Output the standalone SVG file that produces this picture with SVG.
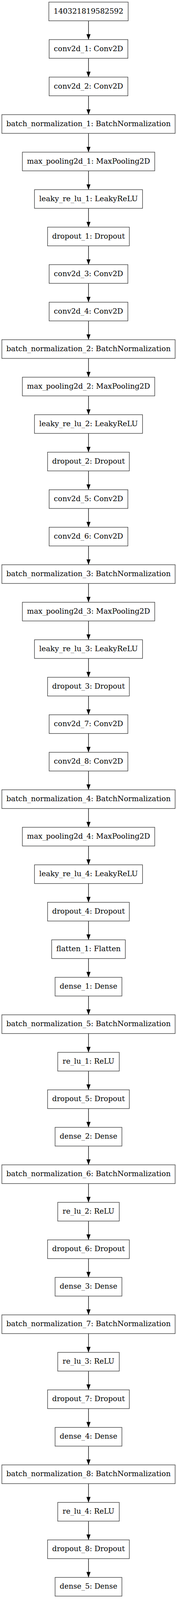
<svg xmlns="http://www.w3.org/2000/svg" width="453" height="4148" viewBox="0 0 453 4148">
<defs>
<style>
.n rect{fill:#fff;stroke:#404040;stroke-width:1.4}
.n text{font-family:"DejaVu Serif","Liberation Serif",serif;font-size:18.7px;fill:#000;text-anchor:middle}
.e path{fill:none;stroke:#000;stroke-width:1.35;marker-end:url(#ah)}
</style>
<marker id="ah" markerWidth="14" markerHeight="10.5" refX="14" refY="5.25" orient="auto" markerUnits="userSpaceOnUse" viewBox="0 0 14 10.5"><path d="M0,0 L14,5.25 L0,10.5 z" fill="#000"/></marker>
</defs>
<rect width="453" height="4148" fill="#fff"/>
<g id="edges" class="e">
<path d="M226.5,53.3 V101.4"/>
<path d="M226.5,149.3 V197.4"/>
<path d="M226.5,245.3 V293.5"/>
<path d="M226.5,341.4 V389.5"/>
<path d="M226.5,437.4 V485.5"/>
<path d="M226.5,533.4 V581.5"/>
<path d="M226.5,629.4 V677.5"/>
<path d="M226.5,725.4 V773.6"/>
<path d="M226.5,821.5 V869.6"/>
<path d="M226.5,917.5 V965.6"/>
<path d="M226.5,1013.5 V1061.6"/>
<path d="M226.5,1109.5 V1157.6"/>
<path d="M226.5,1205.5 V1253.7"/>
<path d="M226.5,1301.6 V1349.7"/>
<path d="M226.5,1397.6 V1445.7"/>
<path d="M226.5,1493.6 V1541.7"/>
<path d="M226.5,1589.6 V1637.7"/>
<path d="M226.5,1685.6 V1733.8"/>
<path d="M226.5,1781.7 V1829.8"/>
<path d="M226.5,1877.7 V1925.8"/>
<path d="M226.5,1973.7 V2021.8"/>
<path d="M226.5,2069.7 V2117.8"/>
<path d="M226.5,2165.7 V2213.9"/>
<path d="M226.5,2261.8 V2309.9"/>
<path d="M226.5,2357.8 V2405.9"/>
<path d="M226.5,2453.8 V2501.9"/>
<path d="M226.5,2549.8 V2597.9"/>
<path d="M226.5,2645.8 V2694"/>
<path d="M226.5,2741.9 V2790"/>
<path d="M226.5,2837.9 V2886"/>
<path d="M226.5,2933.9 V2982"/>
<path d="M226.5,3029.9 V3078"/>
<path d="M226.5,3125.9 V3174.1"/>
<path d="M226.5,3222 V3270.1"/>
<path d="M226.5,3318 V3366.1"/>
<path d="M226.5,3414 V3462.1"/>
<path d="M226.5,3510 V3558.1"/>
<path d="M226.5,3606 V3654.2"/>
<path d="M226.5,3702.1 V3750.2"/>
<path d="M226.5,3798.1 V3846.2"/>
<path d="M226.5,3894.1 V3942.2"/>
<path d="M226.5,3990.1 V4038.2"/>
</g>
<g id="node_input" class="n"><rect x="125" y="5.4" width="203" height="47.9"/><text x="226.5" y="34.5" textLength="178.3" lengthAdjust="spacingAndGlyphs">140321819582592</text></g>
<g id="node_conv2d_1" class="n"><rect x="125.7" y="101.4" width="201.6" height="47.9"/><text x="226.5" y="130.5" textLength="177.3" lengthAdjust="spacingAndGlyphs">conv2d_1: Conv2D</text></g>
<g id="node_conv2d_2" class="n"><rect x="125.7" y="197.4" width="201.6" height="47.9"/><text x="226.5" y="226.5" textLength="177.3" lengthAdjust="spacingAndGlyphs">conv2d_2: Conv2D</text></g>
<g id="node_batch_normalization_1" class="n"><rect x="4.7" y="293.5" width="443.6" height="47.9"/><text x="226.5" y="322.6" textLength="420.7" lengthAdjust="spacingAndGlyphs">batch_normalization_1: BatchNormalization</text></g>
<g id="node_max_pooling2d_1" class="n"><rect x="57.3" y="389.5" width="338.7" height="47.9"/><text x="226.5" y="418.6" textLength="315" lengthAdjust="spacingAndGlyphs">max_pooling2d_1: MaxPooling2D</text></g>
<g id="node_leaky_re_lu_1" class="n"><rect x="88.3" y="485.5" width="276.4" height="47.9"/><text x="226.5" y="514.6" textLength="252.7" lengthAdjust="spacingAndGlyphs">leaky_re_lu_1: LeakyReLU</text></g>
<g id="node_dropout_1" class="n"><rect x="121.7" y="581.5" width="209.3" height="47.9"/><text x="226.5" y="610.6" textLength="186" lengthAdjust="spacingAndGlyphs">dropout_1: Dropout</text></g>
<g id="node_conv2d_3" class="n"><rect x="125.7" y="677.5" width="201.6" height="47.9"/><text x="226.5" y="706.6" textLength="177.3" lengthAdjust="spacingAndGlyphs">conv2d_3: Conv2D</text></g>
<g id="node_conv2d_4" class="n"><rect x="125.7" y="773.6" width="201.6" height="47.9"/><text x="226.5" y="802.7" textLength="177.3" lengthAdjust="spacingAndGlyphs">conv2d_4: Conv2D</text></g>
<g id="node_batch_normalization_2" class="n"><rect x="4.7" y="869.6" width="443.6" height="47.9"/><text x="226.5" y="898.7" textLength="420.7" lengthAdjust="spacingAndGlyphs">batch_normalization_2: BatchNormalization</text></g>
<g id="node_max_pooling2d_2" class="n"><rect x="57.3" y="965.6" width="338.7" height="47.9"/><text x="226.5" y="994.7" textLength="315" lengthAdjust="spacingAndGlyphs">max_pooling2d_2: MaxPooling2D</text></g>
<g id="node_leaky_re_lu_2" class="n"><rect x="88.3" y="1061.6" width="276.4" height="47.9"/><text x="226.5" y="1090.7" textLength="252.7" lengthAdjust="spacingAndGlyphs">leaky_re_lu_2: LeakyReLU</text></g>
<g id="node_dropout_2" class="n"><rect x="121.7" y="1157.6" width="209.3" height="47.9"/><text x="226.5" y="1186.7" textLength="186" lengthAdjust="spacingAndGlyphs">dropout_2: Dropout</text></g>
<g id="node_conv2d_5" class="n"><rect x="125.7" y="1253.7" width="201.6" height="47.9"/><text x="226.5" y="1282.8" textLength="177.3" lengthAdjust="spacingAndGlyphs">conv2d_5: Conv2D</text></g>
<g id="node_conv2d_6" class="n"><rect x="125.7" y="1349.7" width="201.6" height="47.9"/><text x="226.5" y="1378.8" textLength="177.3" lengthAdjust="spacingAndGlyphs">conv2d_6: Conv2D</text></g>
<g id="node_batch_normalization_3" class="n"><rect x="4.7" y="1445.7" width="443.6" height="47.9"/><text x="226.5" y="1474.8" textLength="420.7" lengthAdjust="spacingAndGlyphs">batch_normalization_3: BatchNormalization</text></g>
<g id="node_max_pooling2d_3" class="n"><rect x="57.3" y="1541.7" width="338.7" height="47.9"/><text x="226.5" y="1570.8" textLength="315" lengthAdjust="spacingAndGlyphs">max_pooling2d_3: MaxPooling2D</text></g>
<g id="node_leaky_re_lu_3" class="n"><rect x="88.3" y="1637.7" width="276.4" height="47.9"/><text x="226.5" y="1666.8" textLength="252.7" lengthAdjust="spacingAndGlyphs">leaky_re_lu_3: LeakyReLU</text></g>
<g id="node_dropout_3" class="n"><rect x="121.7" y="1733.8" width="209.3" height="47.9"/><text x="226.5" y="1762.9" textLength="186" lengthAdjust="spacingAndGlyphs">dropout_3: Dropout</text></g>
<g id="node_conv2d_7" class="n"><rect x="125.7" y="1829.8" width="201.6" height="47.9"/><text x="226.5" y="1858.9" textLength="177.3" lengthAdjust="spacingAndGlyphs">conv2d_7: Conv2D</text></g>
<g id="node_conv2d_8" class="n"><rect x="125.7" y="1925.8" width="201.6" height="47.9"/><text x="226.5" y="1954.9" textLength="177.3" lengthAdjust="spacingAndGlyphs">conv2d_8: Conv2D</text></g>
<g id="node_batch_normalization_4" class="n"><rect x="4.7" y="2021.8" width="443.6" height="47.9"/><text x="226.5" y="2050.9" textLength="420.7" lengthAdjust="spacingAndGlyphs">batch_normalization_4: BatchNormalization</text></g>
<g id="node_max_pooling2d_4" class="n"><rect x="57.3" y="2117.8" width="338.7" height="47.9"/><text x="226.5" y="2146.9" textLength="315" lengthAdjust="spacingAndGlyphs">max_pooling2d_4: MaxPooling2D</text></g>
<g id="node_leaky_re_lu_4" class="n"><rect x="88.3" y="2213.9" width="276.4" height="47.9"/><text x="226.5" y="2243" textLength="252.7" lengthAdjust="spacingAndGlyphs">leaky_re_lu_4: LeakyReLU</text></g>
<g id="node_dropout_4" class="n"><rect x="121.7" y="2309.9" width="209.3" height="47.9"/><text x="226.5" y="2339" textLength="186" lengthAdjust="spacingAndGlyphs">dropout_4: Dropout</text></g>
<g id="node_flatten_1" class="n"><rect x="132.3" y="2405.9" width="188.4" height="47.9"/><text x="226.5" y="2435" textLength="165" lengthAdjust="spacingAndGlyphs">flatten_1: Flatten</text></g>
<g id="node_dense_1" class="n"><rect x="141" y="2501.9" width="171" height="47.9"/><text x="226.5" y="2531" textLength="147.3" lengthAdjust="spacingAndGlyphs">dense_1: Dense</text></g>
<g id="node_batch_normalization_5" class="n"><rect x="4.7" y="2597.9" width="443.6" height="47.9"/><text x="226.5" y="2627" textLength="420.7" lengthAdjust="spacingAndGlyphs">batch_normalization_5: BatchNormalization</text></g>
<g id="node_re_lu_1" class="n"><rect x="147.7" y="2694" width="157.6" height="47.9"/><text x="226.5" y="2723.1" textLength="132.3" lengthAdjust="spacingAndGlyphs">re_lu_1: ReLU</text></g>
<g id="node_dropout_5" class="n"><rect x="121.7" y="2790" width="209.3" height="47.9"/><text x="226.5" y="2819.1" textLength="186" lengthAdjust="spacingAndGlyphs">dropout_5: Dropout</text></g>
<g id="node_dense_2" class="n"><rect x="141" y="2886" width="171" height="47.9"/><text x="226.5" y="2915.1" textLength="147.3" lengthAdjust="spacingAndGlyphs">dense_2: Dense</text></g>
<g id="node_batch_normalization_6" class="n"><rect x="4.7" y="2982" width="443.6" height="47.9"/><text x="226.5" y="3011.1" textLength="420.7" lengthAdjust="spacingAndGlyphs">batch_normalization_6: BatchNormalization</text></g>
<g id="node_re_lu_2" class="n"><rect x="147.7" y="3078" width="157.6" height="47.9"/><text x="226.5" y="3107.1" textLength="132.3" lengthAdjust="spacingAndGlyphs">re_lu_2: ReLU</text></g>
<g id="node_dropout_6" class="n"><rect x="121.7" y="3174.1" width="209.3" height="47.9"/><text x="226.5" y="3203.2" textLength="186" lengthAdjust="spacingAndGlyphs">dropout_6: Dropout</text></g>
<g id="node_dense_3" class="n"><rect x="141" y="3270.1" width="171" height="47.9"/><text x="226.5" y="3299.2" textLength="147.3" lengthAdjust="spacingAndGlyphs">dense_3: Dense</text></g>
<g id="node_batch_normalization_7" class="n"><rect x="4.7" y="3366.1" width="443.6" height="47.9"/><text x="226.5" y="3395.2" textLength="420.7" lengthAdjust="spacingAndGlyphs">batch_normalization_7: BatchNormalization</text></g>
<g id="node_re_lu_3" class="n"><rect x="147.7" y="3462.1" width="157.6" height="47.9"/><text x="226.5" y="3491.2" textLength="132.3" lengthAdjust="spacingAndGlyphs">re_lu_3: ReLU</text></g>
<g id="node_dropout_7" class="n"><rect x="121.7" y="3558.1" width="209.3" height="47.9"/><text x="226.5" y="3587.2" textLength="186" lengthAdjust="spacingAndGlyphs">dropout_7: Dropout</text></g>
<g id="node_dense_4" class="n"><rect x="141" y="3654.2" width="171" height="47.9"/><text x="226.5" y="3683.3" textLength="147.3" lengthAdjust="spacingAndGlyphs">dense_4: Dense</text></g>
<g id="node_batch_normalization_8" class="n"><rect x="4.7" y="3750.2" width="443.6" height="47.9"/><text x="226.5" y="3779.3" textLength="420.7" lengthAdjust="spacingAndGlyphs">batch_normalization_8: BatchNormalization</text></g>
<g id="node_re_lu_4" class="n"><rect x="147.7" y="3846.2" width="157.6" height="47.9"/><text x="226.5" y="3875.3" textLength="132.3" lengthAdjust="spacingAndGlyphs">re_lu_4: ReLU</text></g>
<g id="node_dropout_8" class="n"><rect x="121.7" y="3942.2" width="209.3" height="47.9"/><text x="226.5" y="3971.3" textLength="186" lengthAdjust="spacingAndGlyphs">dropout_8: Dropout</text></g>
<g id="node_dense_5" class="n"><rect x="141" y="4038.2" width="171" height="47.9"/><text x="226.5" y="4067.3" textLength="147.3" lengthAdjust="spacingAndGlyphs">dense_5: Dense</text></g>
</svg>
